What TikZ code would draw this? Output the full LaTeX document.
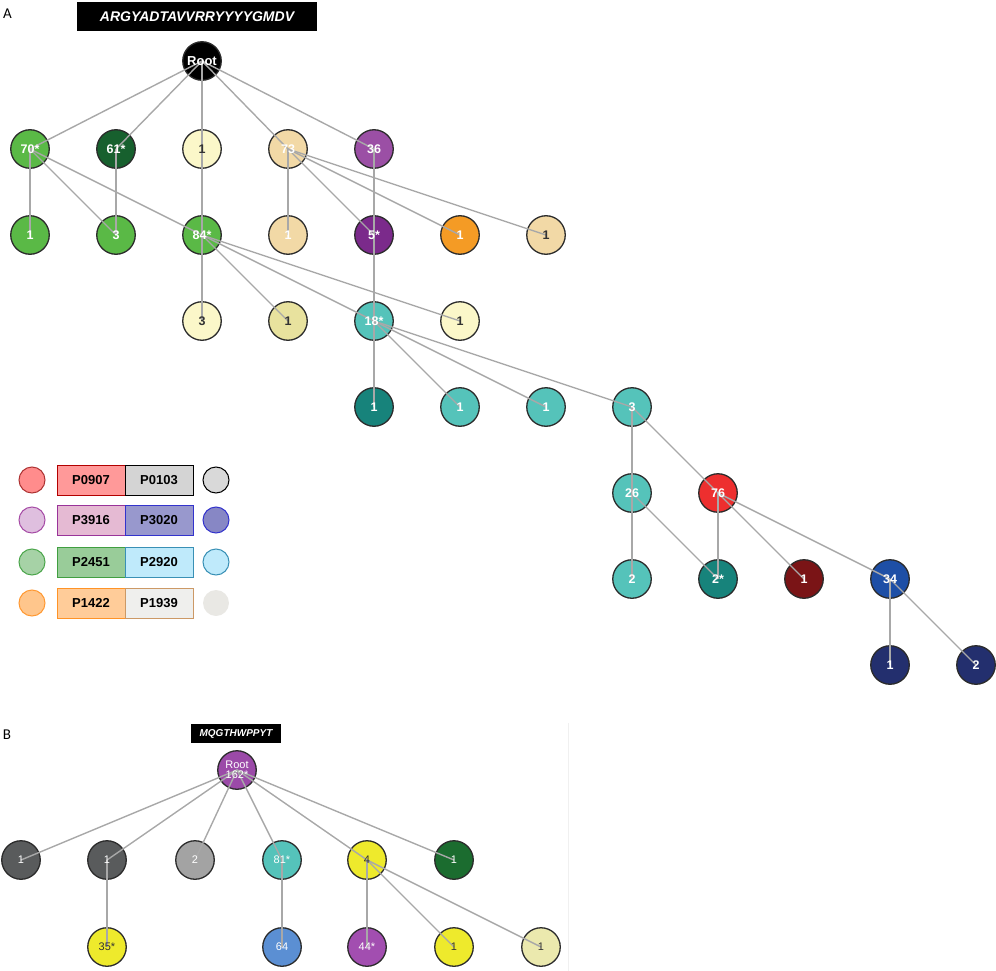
\documentclass[tikz,border=0pt]{standalone}
\usepackage{fontspec}
\setsansfont{Liberation Sans}
\newfontfamily\panelfont{Carlito}
\usetikzlibrary{positioning}

\definecolor{ndline}{HTML}{2B2B2B}
\definecolor{ndtext}{HTML}{333333}
\definecolor{edgegray}{HTML}{A8A8A8}
\definecolor{faintline}{HTML}{F0F0F0}
\definecolor{cgreen}{HTML}{5AB946}
\definecolor{cdkgreen}{HTML}{17602E}
\definecolor{cpale}{HTML}{FBF7C9}
\definecolor{ckhaki}{HTML}{E8E29E}
\definecolor{ctan}{HTML}{F2D9A6}
\definecolor{cpurple}{HTML}{9B4FA5}
\definecolor{cdkpurple}{HTML}{7B2A8B}
\definecolor{corange}{HTML}{F49B25}
\definecolor{cteal}{HTML}{55C3BA}
\definecolor{cdkteal}{HTML}{17837B}
\definecolor{cred}{HTML}{ED2F2F}
\definecolor{cmaroon}{HTML}{7A1416}
\definecolor{cblue}{HTML}{1E4FA6}
\definecolor{cnavy}{HTML}{232F6E}
\definecolor{bdgray}{HTML}{595B5C}
\definecolor{bgray}{HTML}{A3A3A3}
\definecolor{byellow}{HTML}{EEEA2C}
\definecolor{bgreen}{HTML}{1B6C2F}
\definecolor{bblue}{HTML}{5B8FD3}
\definecolor{bpurple}{HTML}{A24EB0}
\definecolor{bpale}{HTML}{EBE9AE}
\definecolor{brootp}{HTML}{9B4AA8}

\begin{document}
\begin{tikzpicture}[x=1pt,y=-1pt,
  nd/.style={circle,draw=ndline,line width=1.3pt,minimum size=38.5pt,inner sep=0pt},
  wt/.style={text=white,inner sep=0pt,font=\sffamily\bfseries\fontsize{12.5}{14}\selectfont},
  dk/.style={wt,text=ndtext},
  wtb/.style={wt,font=\sffamily\fontsize{11}{10.5}\selectfont},
  dkb/.style={wtb,text=ndtext},
  edge/.style={draw=edgegray,line width=1.4pt},
  seq/.style={fill=black,text=white,inner sep=0pt,font=\sffamily\bfseries\itshape},
  lgbox/.style={draw,line width=1pt,minimum width=68pt,minimum height=30pt,inner sep=0pt,
    font=\sffamily\bfseries\fontsize{13}{15}\selectfont},
  lgdot/.style={circle,line width=1pt,minimum size=26pt,inner sep=0pt},
  panel/.style={font=\panelfont\fontsize{15}{17}\selectfont,inner sep=0pt}]
  \useasboundingbox (0,0) rectangle (996,971);

  % panel A
  \node[panel] (labA) at (7.5,14) {A};
  \node[seq,minimum width=240pt,minimum height=29pt,font=\sffamily\bfseries\itshape\fontsize{14}{16}\selectfont]
    (seqA) at (197,16.5) {ARGYADTAVVRRYYYYGMDV};
  \node[nd,fill=black] (root) at (202,61) {};

  \node[nd,fill=cgreen] (a70) at (30,149) {};
  \node[nd,fill=cdkgreen] (a61) at (116,149) {};
  \node[nd,fill=cpale] (a1) at (202,149) {};
  \node[nd,fill=ctan] (a73) at (288,149) {};
  \node[nd,fill=cpurple] (a36) at (374,149) {};

  \node[nd,fill=cgreen] (b1) at (30,235) {};
  \node[nd,fill=cgreen] (b3) at (116,235) {};
  \node[nd,fill=cgreen] (b84) at (202,235) {};
  \node[nd,fill=ctan] (b1t) at (288,235) {};
  \node[nd,fill=cdkpurple] (b5) at (374,235) {};
  \node[nd,fill=corange] (b1o) at (460,235) {};
  \node[nd,fill=ctan] (b1u) at (546,235) {};

  \node[nd,fill=cpale] (c3) at (202,321) {};
  \node[nd,fill=ckhaki] (c1k) at (288,321) {};
  \node[nd,fill=cteal] (c18) at (374,321) {};
  \node[nd,fill=cpale] (c1p) at (460,321) {};

  \node[nd,fill=cdkteal] (d1) at (374,407) {};
  \node[nd,fill=cteal] (d1a) at (460,407) {};
  \node[nd,fill=cteal] (d1b) at (546,407) {};
  \node[nd,fill=cteal] (d3) at (632,407) {};

  \node[nd,fill=cteal] (e26) at (632,493) {};
  \node[nd,fill=cred] (e76) at (718,493) {};

  \node[nd,fill=cteal] (f2) at (632,579) {};
  \node[nd,fill=cdkteal] (f2s) at (718,579) {};
  \node[nd,fill=cmaroon] (f1) at (804,579) {};
  \node[nd,fill=cblue] (f34) at (890,579) {};

  \node[nd,fill=cnavy] (g1) at (890,665) {};
  \node[nd,fill=cnavy] (g2) at (976,665) {};

  \draw[edge] (root.center)--(a70.center);
  \draw[edge] (root.center)--(a61.center);
  \draw[edge] (root.center)--(a1.center);
  \draw[edge] (root.center)--(a73.center);
  \draw[edge] (root.center)--(a36.center);
  \draw[edge] (a1.center)--(c3.center);
  \draw[edge] (a70.center)--(b1.center);
  \draw[edge] (a70.center)--(b3.center);
  \draw[edge] (a70.center)--(b84.center);
  \draw[edge] (a61.center)--(b3.center);
  \draw[edge] (a73.center)--(b1t.center);
  \draw[edge] (a73.center)--(b5.center);
  \draw[edge] (a73.center)--(b1o.center);
  \draw[edge] (a73.center)--(b1u.center);
  \draw[edge] (a36.center)--(b5.center);
  \draw[edge] (b5.center)--(c18.center);
  \draw[edge] (b84.center)--(c1k.center);
  \draw[edge] (b84.center)--(c18.center);
  \draw[edge] (b84.center)--(c1p.center);
  \draw[edge] (c18.center)--(d1.center);
  \draw[edge] (c18.center)--(d1a.center);
  \draw[edge] (c18.center)--(d1b.center);
  \draw[edge] (c18.center)--(d3.center);
  \draw[edge] (d3.center)--(e26.center);
  \draw[edge] (d3.center)--(e76.center);
  \draw[edge] (e26.center)--(f2.center);
  \draw[edge] (e26.center)--(f2s.center);
  \draw[edge] (e76.center)--(f2s.center);
  \draw[edge] (e76.center)--(f1.center);
  \draw[edge] (e76.center)--(f34.center);
  \draw[edge] (f34.center)--(g1.center);
  \draw[edge] (f34.center)--(g2.center);

  % counts on top of the lines
  \node[wt,font=\sffamily\bfseries\fontsize{13}{15}\selectfont] (troot) at (root) {Root};
  \foreach \n/\t in {a70/70*,a61/61*,a73/73,a36/36,b1/1,b3/3,b84/84*,b1t/1,b5/5*,b1o/1,
      c18/18*,d1/1,d1a/1,d1b/1,d3/3,e26/26,e76/76,f2/2,f2s/2*,f1/1,f34/34,g1/1,g2/2}
    \node[wt] (t\n) at (\n) {\t};
  \foreach \n/\t in {a1/1,b1u/1,c3/3,c1k/1,c1p/1}
    \node[dk] (t\n) at (\n) {\t};

  % legend
  \node[lgdot,draw=red!60!black!80,fill=red!45] (dot0907) at (32,480) {};
  \node[lgbox,draw=red!70!black,fill=red!40] (p0907) at (91,480) {P0907};
  \node[lgbox,draw=black,fill=black!17] (p0103) at (159,480) {P0103};
  \node[lgdot,draw=black,fill=black!15] (dot0103) at (216,480) {};

  \node[lgdot,draw=violet!70,fill=violet!25] (dot3916) at (32,520) {};
  \node[lgbox,draw=violet!80,fill=magenta!30!violet!30] (p3916) at (91,520) {P3916};
  \node[lgbox,draw=blue!60!gray,fill=blue!35!gray!60] (p3020) at (159,520) {P3020};
  \node[lgdot,draw=blue!60!gray,fill=blue!35!gray!70] (dot3020) at (216,520) {};

  \node[lgdot,draw=green!50!black!70,fill=green!50!black!35] (dot2451) at (32,562) {};
  \node[lgbox,draw=green!50!black!75,fill=green!50!black!40] (p2451) at (91,562) {P2451};
  \node[lgbox,draw=cyan!70!black,fill=cyan!25] (p2920) at (159,562) {P2920};
  \node[lgdot,draw=cyan!70!black,fill=cyan!25] (dot2920) at (216,562) {};

  \node[lgdot,draw=orange!80,fill=orange!45] (dot1422) at (32,603) {};
  \node[lgbox,draw=orange!85,fill=orange!40] (p1422) at (91,603) {P1422};
  \node[lgbox,draw=brown!80,fill=yellow!10!black!8] (p1939) at (159,603) {P1939};
  \node[lgdot,fill=yellow!15!black!12] (dot1939) at (216,603) {};

  % panel B
  \node[panel] (labB) at (7,735) {B};
  \draw[faintline] (568,723)--(568,971);
  \node[seq,minimum width=90pt,minimum height=19pt,font=\sffamily\bfseries\itshape\fontsize{10}{12}\selectfont]
    (seqB) at (236,733.5) {MQGTHWPPYT};
  \node[nd,fill=brootp] (rootB) at (237,770) {};

  \node[nd,fill=bdgray] (h1) at (21,860) {};
  \node[nd,fill=bdgray] (h2) at (107,860) {};
  \node[nd,fill=bgray] (h3) at (195,860) {};
  \node[nd,fill=cteal] (h4) at (282,860) {};
  \node[nd,fill=byellow] (h5) at (367,860) {};
  \node[nd,fill=bgreen] (h6) at (454,860) {};

  \node[nd,fill=byellow] (k1) at (107,947) {};
  \node[nd,fill=bblue] (k2) at (282,947) {};
  \node[nd,fill=bpurple] (k3) at (367,947) {};
  \node[nd,fill=byellow] (k4) at (454,947) {};
  \node[nd,fill=bpale] (k5) at (541,947) {};

  \draw[edge] (rootB.center)--(h1.center);
  \draw[edge] (rootB.center)--(h2.center);
  \draw[edge] (rootB.center)--(h3.center);
  \draw[edge] (rootB.center)--(h4.center);
  \draw[edge] (rootB.center)--(h5.center);
  \draw[edge] (rootB.center)--(h6.center);
  \draw[edge] (h2.center)--(k1.center);
  \draw[edge] (h4.center)--(k2.center);
  \draw[edge] (h5.center)--(k3.center);
  \draw[edge] (h5.center)--(k4.center);
  \draw[edge] (h5.center)--(k5.center);

  \node[wtb,align=center] (trootB) at (rootB) {Root\\162*};
  \foreach \n/\t in {h1/1,h2/1,h3/2,h4/81*,h6/1,k2/64,k3/44*}
    \node[wtb] (t\n) at (\n) {\t};
  \foreach \n/\t in {h5/4,k1/35*,k4/1,k5/1}
    \node[dkb] (t\n) at (\n) {\t};
\end{tikzpicture}
\end{document}
